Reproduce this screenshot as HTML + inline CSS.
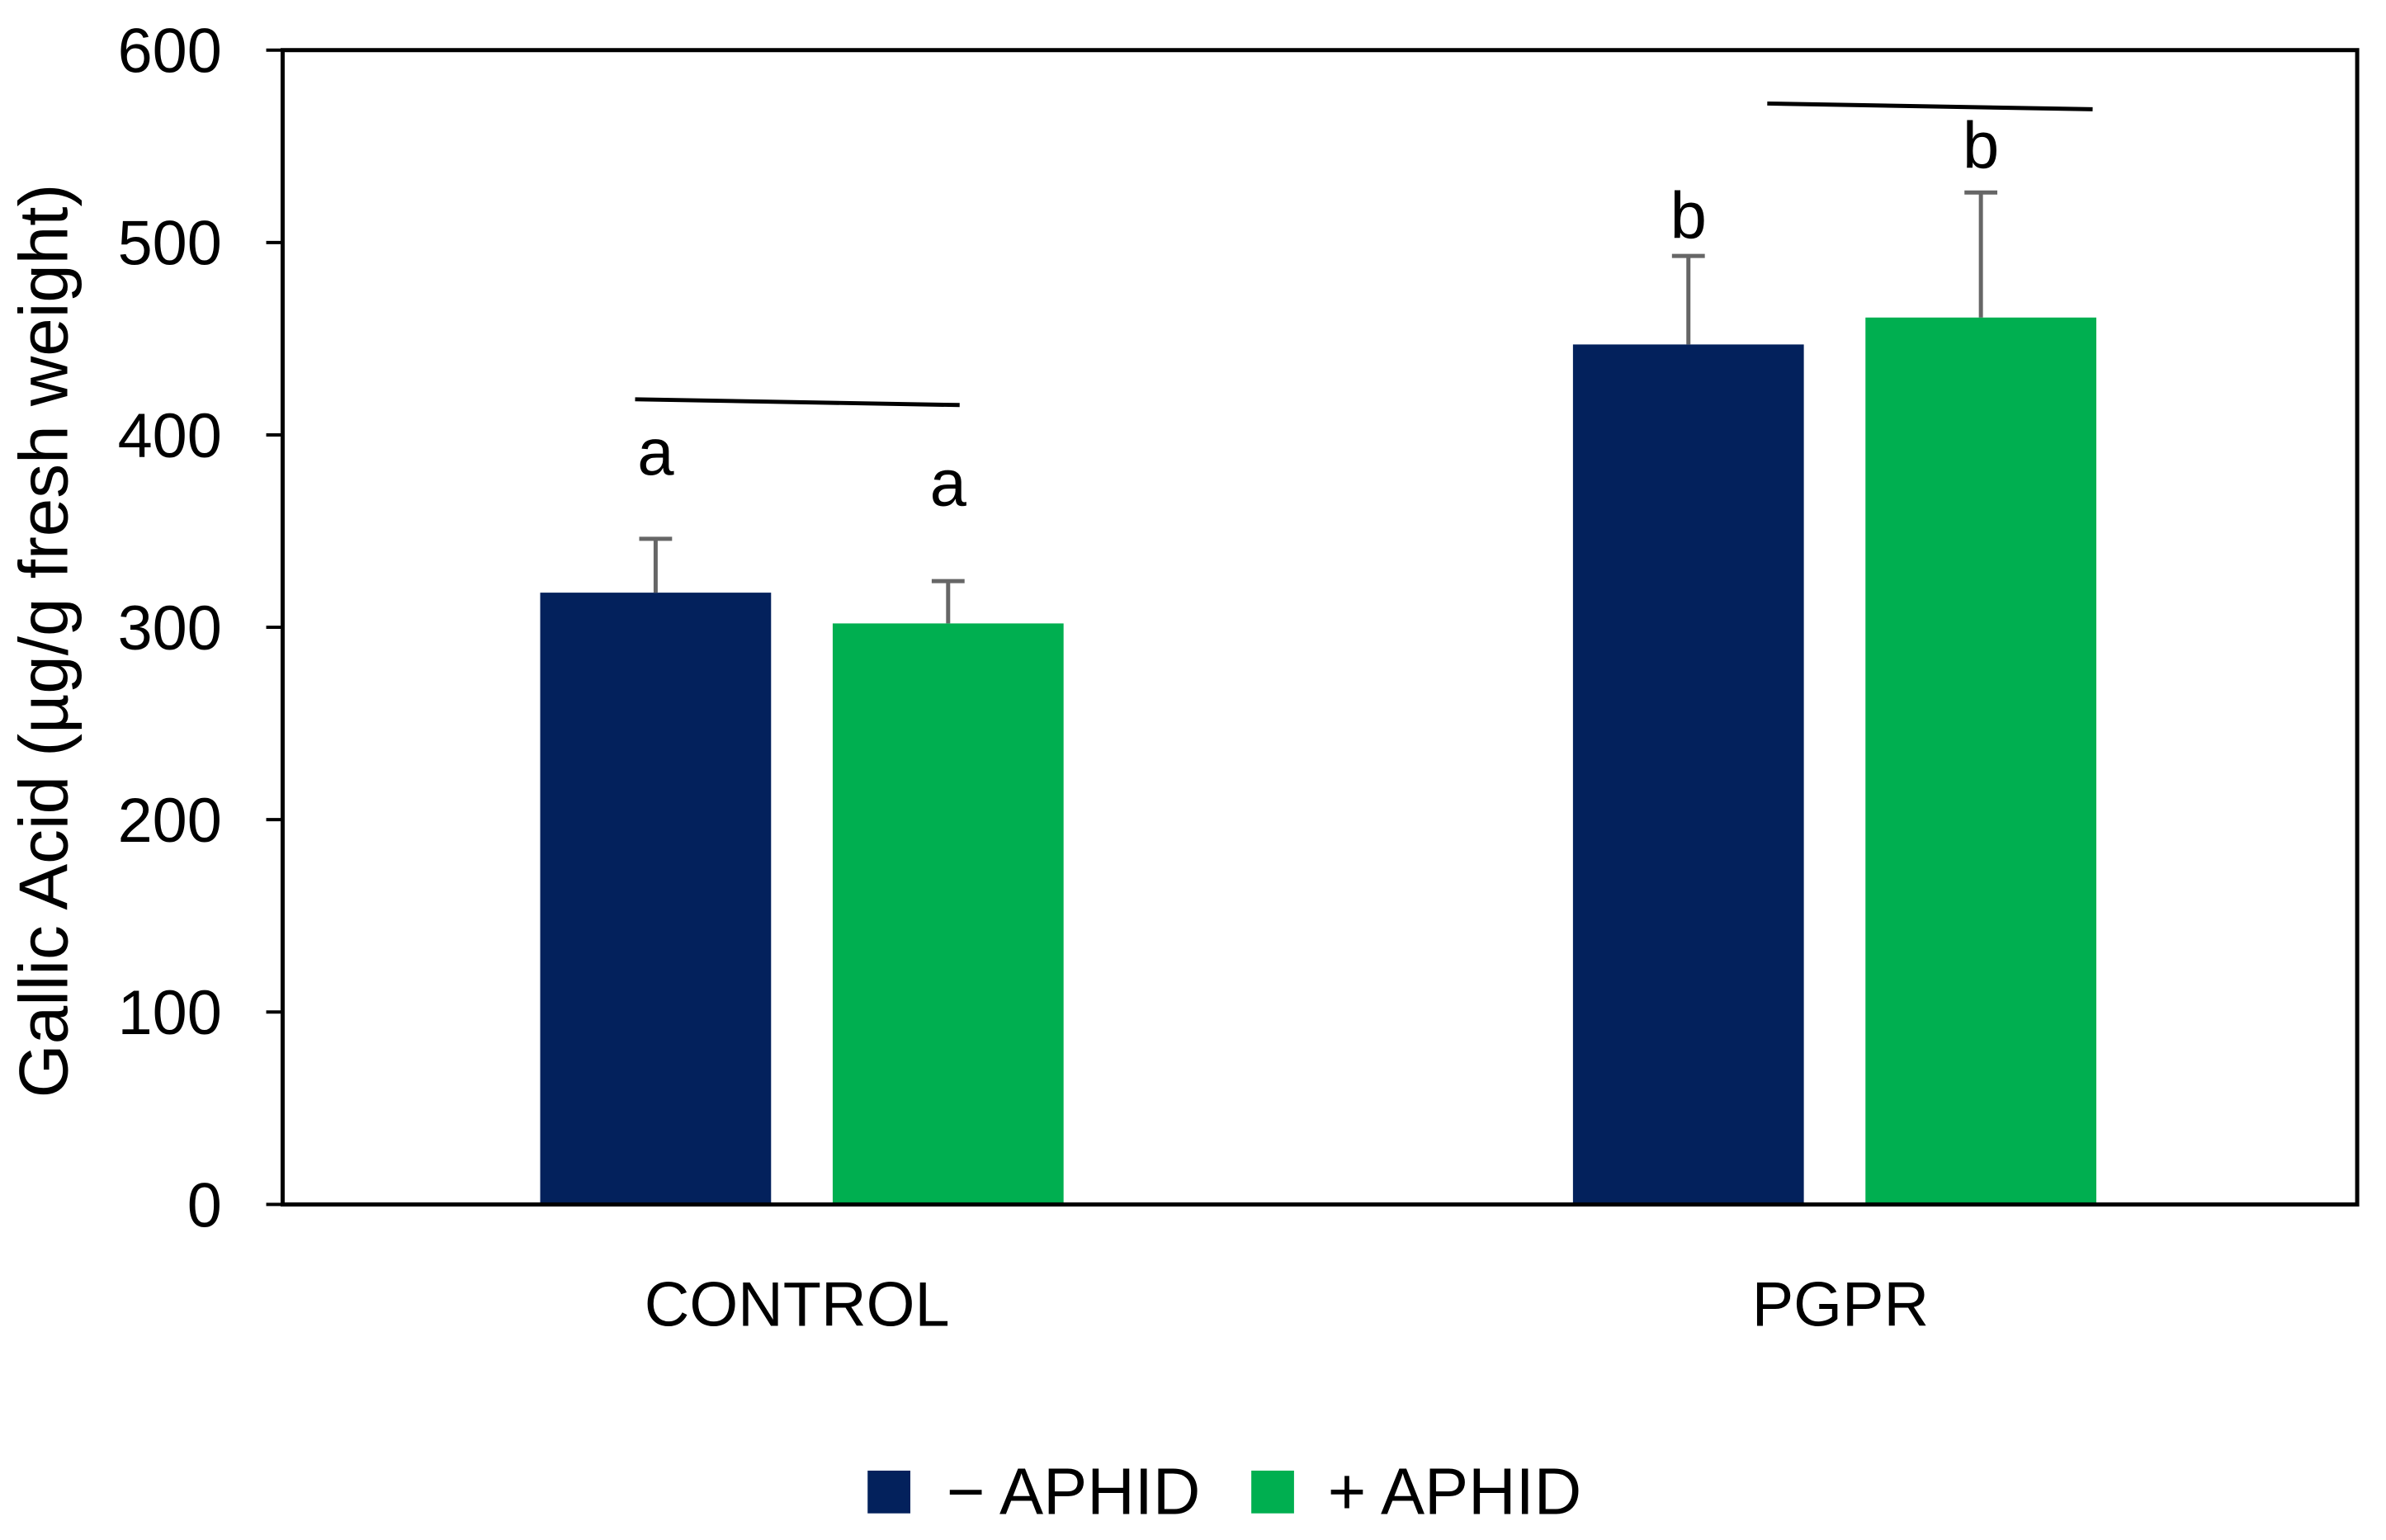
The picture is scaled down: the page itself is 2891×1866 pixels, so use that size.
<!DOCTYPE html>
<html><head><meta charset="utf-8"><style>
html,body{margin:0;padding:0;background:#fff;}
svg{display:block;font-family:"Liberation Sans",sans-serif;}
</style></head><body>
<svg id="chart" width="2891" height="1866" viewBox="0 0 2891 1866" xmlns="http://www.w3.org/2000/svg">
<rect x="0" y="0" width="2891" height="1866" fill="#fff"/>
<g transform="scale(0.9955)">
<g id="bars"></g>
<rect x="344" y="61" width="2525" height="1405" fill="none" stroke="#000" stroke-width="5"/>
<g id="yaxis"></g>
<text transform="translate(82,780) rotate(-90)" text-anchor="middle" font-size="84" fill="#000">Gallic Acid (µg/g fresh weight)</text>
<text x="970" y="1614" text-anchor="middle" font-size="76">CONTROL</text>
<text x="2240" y="1614" text-anchor="middle" font-size="76">PGPR</text>
<line x1="773" y1="486" x2="1168" y2="493" stroke="#000" stroke-width="5"/>
<line x1="2151" y1="126" x2="2547" y2="133" stroke="#000" stroke-width="5"/>
<g>
<rect x="1056" y="1790" width="52" height="52" fill="#03215c"/>
<text x="1152" y="1843" font-size="80">− APHID</text>
<rect x="1523" y="1790" width="52" height="52" fill="#00af50"/>
<text x="1616" y="1843" font-size="80">+ APHID</text>
</g>
</g>
</svg>
<script>
const categories = ["CONTROL", "PGPR"];
const minusAphid = [318, 447];
const plusAphid = [302, 461];
const minusErr = [28, 46];
const plusErr = [22, 65];
const minusLetters = ["a", "b"];
const plusLetters = ["a", "b"];
const yTicks = [0, 100, 200, 300, 400, 500, 600];
// pixel gaps between error-bar top and letter baseline (style, not data)
const minusLetterGap = [78, 22];
const plusLetterGap = [92, 30];

const NS = "http://www.w3.org/2000/svg";
const y0 = 1466, yTop = 61, vMax = 600;
function yScale(v){ return y0 - v * (y0 - yTop) / vMax; }
const groupCenters = [976, 2233];
function xScale(ci, si){ return groupCenters[ci] + (si === 0 ? -178 : 178); }
const barW = 281;

function mk(tag, attrs){ const e = document.createElementNS(NS, tag); for (const k in attrs) e.setAttribute(k, attrs[k]); return e; }

const ya = document.getElementById('yaxis');
yTicks.forEach(t => {
  const yy = yScale(t);
  const ln = mk('line', {x1: 324, x2: 344, y1: yy, y2: yy, stroke: '#000', 'stroke-width': 4});
  
  
  ya.appendChild(ln);
  const tx = mk('text', {x: 270, y: yy + 27, 'text-anchor': 'end', 'font-size': 76});
  
  
  tx.textContent = t;
  ya.appendChild(tx);
});

const bg = document.getElementById('bars');
const series = [[minusAphid, minusErr, minusLetters, '#03215c', 'minus-aphid', minusLetterGap], [plusAphid, plusErr, plusLetters, '#00af50', 'plus-aphid', plusLetterGap]];
series.forEach((s, si) => {
  s[0].forEach((v, ci) => {
    const cx = xScale(ci, si);
    const top = yScale(v);
    const r = mk('rect', {x: cx - barW/2, y: top, width: barW, height: y0 - top, fill: s[3]});
    
    
    bg.appendChild(r);
    const et = yScale(v + s[1][ci]);
    const e1 = mk('line', {x1: cx, x2: cx, y1: et, y2: top, stroke: '#666', 'stroke-width': 5});
    
    
    bg.appendChild(e1);
    const e2 = mk('line', {x1: cx - 20, x2: cx + 20, y1: et, y2: et, stroke: '#666', 'stroke-width': 5});
    
    
    bg.appendChild(e2);
    const lt = mk('text', {x: cx, y: et - s[5][ci], 'text-anchor': 'middle', 'font-size': 80});
    
    
    lt.textContent = s[2][ci];
    bg.appendChild(lt);
  });
});
</script>
</body></html>
